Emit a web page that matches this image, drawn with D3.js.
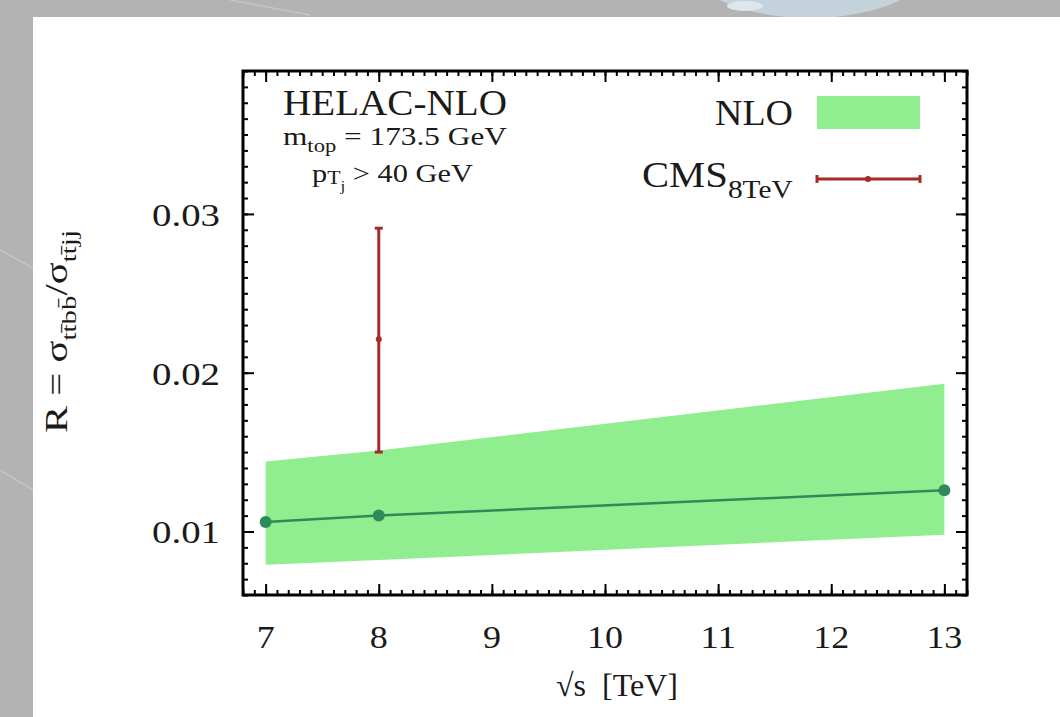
<!DOCTYPE html>
<html>
<head>
<meta charset="utf-8">
<script src="https://cdn.jsdelivr.net/npm/d3@7"></script>
<style>
  html, body { margin: 0; padding: 0; background: #b3b3b3; }
  svg { display: block; }
  text { fill: #1a1a1a; white-space: pre; }
</style>
</head>
<body>
<svg id="chart" width="1060" height="717" font-family="Liberation Serif"></svg>
<script>
// Values
const energies = [7, 8, 13];
const nloCentral = [0.0106, 0.0110, 0.0126];
const nloLow = [0.0079, 0.0082, 0.0098];
const nloHigh = [0.0144, 0.0151, 0.0193];

const cmsEnergy = [8];
const cmsValue = [0.0221];
const cmsLow = [0.0150];
const cmsHigh = [0.0291];

const xTicks = [7, 8, 9, 10, 11, 12, 13];
const yTicks = [0.01, 0.02, 0.03];

const green = '#90ee90';
const darkGreen = '#2e8b57';
const cmsRed = '#a52a2a';

const frame = { left: 243, right: 967, top: 71, bottom: 595 };

const svg = d3.select('#chart');

// backdrop: gray page with white panel
svg.append('rect').attr('width', 1060).attr('height', 717).attr('fill', '#b3b3b3');
svg.append('ellipse')
  .attr('cx', 810).attr('cy', -40).attr('rx', 125).attr('ry', 58)
  .attr('fill', '#c4d2db');
svg.append('ellipse')
  .attr('cx', 745).attr('cy', 6).attr('rx', 18).attr('ry', 5)
  .attr('fill', '#dde7ec');
[[0, 250, 33, 268], [0, 470, 33, 490], [230, 0, 310, 15]].forEach(function(l) {
  svg.append('line')
    .attr('x1', l[0]).attr('y1', l[1]).attr('x2', l[2]).attr('y2', l[3])
    .attr('stroke', '#c4c4c4').attr('stroke-width', 1.5);
});
svg.append('rect').attr('x', 33).attr('y', 17).attr('width', 1027).attr('height', 700).attr('fill', '#fff');

const x = d3.scaleLinear().domain([6.8, 13.2]).range([frame.left, frame.right]);
const y = d3.scaleLinear().domain([0.006, 0.039]).range([frame.bottom, frame.top]);

// horizontal stretch helper so text widths match the picture
function fitText(t, x0, width, anchor) {
  const b = t.node().getBBox();
  const sx = width / b.width;
  let start = x0;
  if (anchor === 'end') start = x0 - width;
  if (anchor === 'middle') start = x0 - width / 2;
  t.attr('transform', 'translate(' + start + ',0) scale(' + sx + ',1) translate(' + (-b.x) + ',0)');
}

// NLO band
const band = d3.area()
  .x(function(d) { return x(d.e); })
  .y0(function(d) { return y(d.lo); })
  .y1(function(d) { return y(d.hi); });

const bandData = energies.map(function(e, i) {
  return { e: e, lo: nloLow[i], hi: nloHigh[i], c: nloCentral[i] };
});

svg.append('path')
  .datum(bandData)
  .attr('d', band)
  .attr('fill', green);

// central line + points
const line = d3.line()
  .x(function(d) { return x(d.e); })
  .y(function(d) { return y(d.c); });

svg.append('path')
  .datum(bandData)
  .attr('d', line)
  .attr('fill', 'none')
  .attr('stroke', darkGreen)
  .attr('stroke-width', 2.5);

svg.selectAll('.nlo-pt')
  .data(bandData)
  .enter()
  .append('circle')
  .attr('cx', function(d) { return x(d.e); })
  .attr('cy', function(d) { return y(d.c); })
  .attr('r', 6)
  .attr('fill', darkGreen);

// CMS error bar
const cms = cmsEnergy.map(function(e, i) {
  return { e: e, v: cmsValue[i], lo: cmsLow[i], hi: cmsHigh[i] };
});
const cmsG = svg.append('g').attr('stroke', cmsRed).attr('stroke-width', 3);
cms.forEach(function(d) {
  cmsG.append('line')
    .attr('x1', x(d.e)).attr('x2', x(d.e))
    .attr('y1', y(d.lo)).attr('y2', y(d.hi));
  [d.lo, d.hi].forEach(function(v) {
    cmsG.append('line')
      .attr('x1', x(d.e) - 4).attr('x2', x(d.e) + 4)
      .attr('y1', y(v)).attr('y2', y(v));
  });
  svg.append('circle')
    .attr('cx', x(d.e)).attr('cy', y(d.v)).attr('r', 3)
    .attr('fill', cmsRed);
});

// ticks, all inward on four sides
const xMinor = d3.range(68, 133).map(function(v) { return v / 10; });
const yMinor = d3.range(6, 40).map(function(v) { return v / 1000; });

function tickAxis(axis, transform, size, values) {
  svg.append('g')
    .attr('transform', transform)
    .call(axis.tickValues(values).tickSize(size).tickSizeOuter(0).tickFormat(''))
    .call(function(g) {
      g.select('.domain').remove();
      g.selectAll('line').attr('stroke', '#000').attr('stroke-width', 2);
    });
}

tickAxis(d3.axisBottom(x), 'translate(0,' + frame.bottom + ')', -5, xMinor);
tickAxis(d3.axisBottom(x), 'translate(0,' + frame.bottom + ')', -11, xTicks);
tickAxis(d3.axisTop(x), 'translate(0,' + frame.top + ')', -5, xMinor);
tickAxis(d3.axisTop(x), 'translate(0,' + frame.top + ')', -11, xTicks);
tickAxis(d3.axisLeft(y), 'translate(' + frame.left + ',0)', -5, yMinor);
tickAxis(d3.axisLeft(y), 'translate(' + frame.left + ',0)', -11, yTicks);
tickAxis(d3.axisRight(y), 'translate(' + frame.right + ',0)', -5, yMinor);
tickAxis(d3.axisRight(y), 'translate(' + frame.right + ',0)', -11, yTicks);

svg.append('rect')
  .attr('x', frame.left).attr('y', frame.top)
  .attr('width', frame.right - frame.left).attr('height', frame.bottom - frame.top)
  .attr('fill', 'none').attr('stroke', '#000').attr('stroke-width', 3);

// tick labels
xTicks.forEach(function(v) {
  const label = v >= 10 ? 36 : 18;
  const t = svg.append('text').attr('y', 648).attr('font-size', 32).text(v);
  fitText(t, x(v), label, 'middle');
});
yTicks.forEach(function(v) {
  const t = svg.append('text').attr('font-size', 32).text(d3.format('.2f')(v));
  t.attr('y', y(v) + 12);
  fitText(t, 220, 68, 'end');
});

// axis titles
const xt = svg.append('text').attr('y', 696).attr('font-size', 32).text('\u221As\u00A0\u00A0[TeV]');
fitText(xt, 617, 122, 'middle');

const yLabelG = svg.append('g').attr('transform', 'translate(67,433) rotate(-90)');
const yt = yLabelG.append('text').attr('y', 0).attr('font-size', 31);
yt.append('tspan').text('R = \u03C3');
yt.append('tspan').attr('font-size', 22).attr('dy', 9).text('tt\u0304bb\u0304');
yt.append('tspan').attr('dy', -9).text('/\u03C3');
yt.append('tspan').attr('font-size', 22).attr('dy', 9).text('tt\u0304jj');
fitText(yt, 0, 203, 'start');

// annotation block
const h1 = svg.append('text').attr('y', 115).attr('font-size', 36).text('HELAC-NLO');
fitText(h1, 283, 224, 'start');

const h2 = svg.append('text').attr('y', 145).attr('font-size', 25);
h2.append('tspan').text('m');
h2.append('tspan').attr('font-size', 18).attr('dy', 7).text('top');
h2.append('tspan').attr('dy', -7).text(' = 173.5 GeV');
fitText(h2, 283, 224, 'start');

const h3 = svg.append('text').attr('y', 182).attr('font-size', 25);
h3.append('tspan').text('p');
h3.append('tspan').attr('font-size', 18).attr('dy', 2).text('T');
h3.append('tspan').attr('font-size', 14).attr('dy', 7).text('j');
h3.append('tspan').attr('dy', -9).text(' > 40 GeV');
fitText(h3, 312, 161, 'start');

// legend
const l1 = svg.append('text').attr('y', 125).attr('font-size', 36).text('NLO');
fitText(l1, 793, 78, 'end');
svg.append('rect')
  .attr('x', 817).attr('y', 96).attr('width', 103).attr('height', 33)
  .attr('fill', green);

const l2 = svg.append('text').attr('y', 187).attr('font-size', 36);
l2.append('tspan').text('CMS');
l2.append('tspan').attr('font-size', 26).attr('dy', 11).text('8TeV');
fitText(l2, 793, 151, 'end');

const legY = 179;
const legG = svg.append('g').attr('stroke', cmsRed).attr('stroke-width', 3);
legG.append('line').attr('x1', 817).attr('x2', 920).attr('y1', legY).attr('y2', legY);
[817, 920].forEach(function(px) {
  legG.append('line').attr('x1', px).attr('x2', px).attr('y1', legY - 4).attr('y2', legY + 4);
});
svg.append('circle').attr('cx', 868).attr('cy', legY).attr('r', 3).attr('fill', cmsRed);
</script>
</body>
</html>
